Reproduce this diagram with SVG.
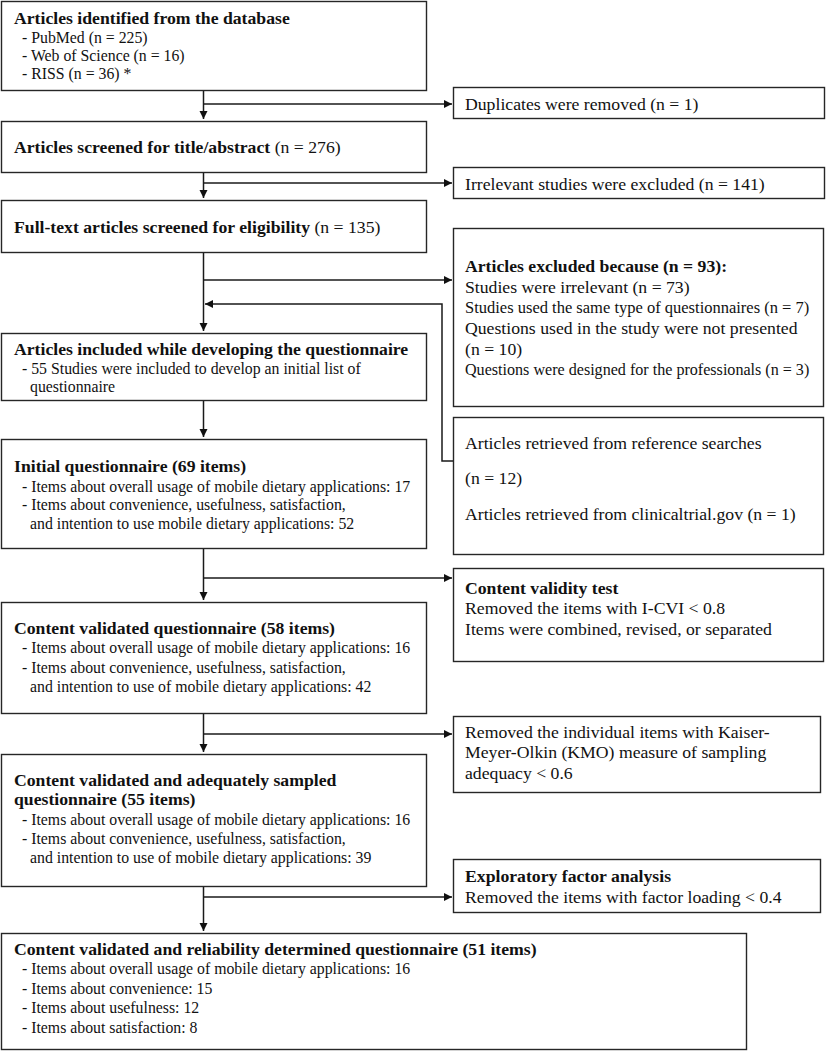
<svg xmlns="http://www.w3.org/2000/svg" width="826" height="1052" viewBox="0 0 826 1052">
<defs>
<style>
.box{fill:#fff;stroke:#262626;stroke-width:1.4}
.ln{fill:none;stroke:#1a1a1a;stroke-width:1.5}
text{font-family:"Liberation Serif","Times New Roman",serif;fill:#111}
.t{font-size:17.7px}
.b{font-weight:bold}
.s{font-size:15.8px}
</style>
<marker id="ah" markerUnits="userSpaceOnUse" markerWidth="10" markerHeight="10" viewBox="0 0 10 10" refX="9" refY="5" orient="auto">
<path d="M1,1 L9,5 L1,9 Z" fill="#111"/>
</marker>
</defs>
<rect width="826" height="1052" fill="#fff"/>

<g id="connectors">
<path class="ln" d="M203.5,90 V119" marker-end="url(#ah)"/>
<path class="ln" d="M203.5,104 H452" marker-end="url(#ah)"/>
<path class="ln" d="M203.5,173 V198" marker-end="url(#ah)"/>
<path class="ln" d="M203.5,183 H452" marker-end="url(#ah)"/>
<path class="ln" d="M203.5,253 V331" marker-end="url(#ah)"/>
<path class="ln" d="M203.5,280 H452" marker-end="url(#ah)"/>
<path class="ln" d="M453,461 H442 V304 H205" marker-end="url(#ah)"/>
<path class="ln" d="M203.5,401 V437" marker-end="url(#ah)"/>
<path class="ln" d="M203.5,549 V600" marker-end="url(#ah)"/>
<path class="ln" d="M203.5,578 H452" marker-end="url(#ah)"/>
<path class="ln" d="M203.5,714 V752" marker-end="url(#ah)"/>
<path class="ln" d="M203.5,734 H452" marker-end="url(#ah)"/>
<path class="ln" d="M203.5,887 V931" marker-end="url(#ah)"/>
<path class="ln" d="M203.5,897 H452" marker-end="url(#ah)"/>
</g>

<g id="n-identified">
<rect class="box" x="1.5" y="1.5" width="425" height="89"/>
<text class="t b" x="14" y="24">Articles identified from the database</text>
<text class="s" x="22" y="43">- PubMed (n = 225)</text>
<text class="s" x="22" y="61">- Web of Science (n = 16)</text>
<text class="s" x="22" y="79">- RISS (n = 36) *</text>
</g>

<g id="n-duplicates">
<rect class="box" x="453.5" y="87.5" width="371" height="31"/>
<text class="t" x="465" y="110">Duplicates were removed (n = 1)</text>
</g>

<g id="n-screened">
<rect class="box" x="1.5" y="121.5" width="425" height="51"/>
<text class="t" x="14" y="153"><tspan class="b">Articles screened for title/abstract</tspan> (n = 276)</text>
</g>

<g id="n-irrelevant">
<rect class="box" x="453.5" y="167.5" width="371" height="31"/>
<text class="t" x="465" y="190">Irrelevant studies were excluded (n = 141)</text>
</g>

<g id="n-fulltext">
<rect class="box" x="1.5" y="200.5" width="425" height="52"/>
<text class="t" x="14" y="233"><tspan class="b">Full-text articles screened for eligibility</tspan> (n = 135)</text>
</g>

<g id="n-excluded">
<rect class="box" x="453.5" y="228.5" width="370" height="178"/>
<text class="t b" x="465" y="272">Articles excluded because (n = 93):</text>
<text class="t" x="465" y="293">Studies were irrelevant (n = 73)</text>
<text x="465" y="313" style="font-size:16.5px">Studies used the same type of questionnaires (n = 7)</text>
<text class="t" x="465" y="334">Questions used in the study were not presented</text>
<text class="t" x="465" y="355">(n = 10)</text>
<text x="465" y="375" style="font-size:16.1px">Questions were designed for the professionals (n = 3)</text>
</g>

<g id="n-included">
<rect class="box" x="1.5" y="333.5" width="425" height="67"/>
<text class="t b" x="14" y="355">Articles included while developing the questionnaire</text>
<text class="s" x="22" y="374">- 55 Studies were included to develop an initial list of</text>
<text class="s" x="30" y="392">questionnaire</text>
</g>

<g id="n-retrieved">
<rect class="box" x="453.5" y="417.5" width="370" height="137"/>
<text class="t" x="465" y="449">Articles retrieved from reference searches</text>
<text class="t" x="465" y="484">(n = 12)</text>
<text class="t" x="465" y="520">Articles retrieved from clinicaltrial.gov (n = 1)</text>
</g>

<g id="n-initial">
<rect class="box" x="1.5" y="439.5" width="425" height="109"/>
<text class="t b" x="14" y="472">Initial questionnaire (69 items)</text>
<text class="s" x="22" y="491.5">- Items about overall usage of mobile dietary applications: 17</text>
<text class="s" x="22" y="510">- Items about convenience, usefulness, satisfaction,</text>
<text class="s" x="30" y="528.5">and intention to use mobile dietary applications: 52</text>
</g>

<g id="n-cvt">
<rect class="box" x="453.5" y="568.5" width="370" height="93"/>
<text class="t b" x="465" y="594">Content validity test</text>
<text class="t" x="465" y="614">Removed the items with I-CVI &lt; 0.8</text>
<text class="t" x="465" y="635">Items were combined, revised, or separated</text>
</g>

<g id="n-cv58">
<rect class="box" x="1.5" y="602.5" width="425" height="111"/>
<text class="t b" x="14" y="634">Content validated questionnaire (58 items)</text>
<text class="s" x="22" y="653">- Items about overall usage of mobile dietary applications: 16</text>
<text class="s" x="22" y="672.5">- Items about convenience, usefulness, satisfaction,</text>
<text class="s" x="30" y="692">and intention to use of mobile dietary applications: 42</text>
</g>

<g id="n-kmo">
<rect class="box" x="453.5" y="716.5" width="367" height="76"/>
<text class="t" x="465" y="738">Removed the individual items with Kaiser-</text>
<text class="t" x="465" y="758">Meyer-Olkin (KMO) measure of sampling</text>
<text class="t" x="465" y="779">adequacy &lt; 0.6</text>
</g>

<g id="n-cv55">
<rect class="box" x="1.5" y="754.5" width="425" height="132"/>
<text class="t b" x="14" y="786">Content validated and adequately sampled</text>
<text class="t b" x="14" y="805">questionnaire (55 items)</text>
<text class="s" x="22" y="824.5">- Items about overall usage of mobile dietary applications: 16</text>
<text class="s" x="22" y="843.5">- Items about convenience, usefulness, satisfaction,</text>
<text class="s" x="30" y="862.5">and intention to use of mobile dietary applications: 39</text>
</g>

<g id="n-efa">
<rect class="box" x="453.5" y="859.5" width="367" height="53"/>
<text class="t b" x="465" y="882">Exploratory factor analysis</text>
<text class="t" x="465" y="903">Removed the items with factor loading &lt; 0.4</text>
</g>

<g id="n-final">
<rect class="box" x="1.5" y="933.5" width="745" height="116"/>
<text class="t b" x="14" y="955">Content validated and reliability determined questionnaire (51 items)</text>
<text class="s" x="22" y="974">- Items about overall usage of mobile dietary applications: 16</text>
<text class="s" x="22" y="993.5">- Items about convenience: 15</text>
<text class="s" x="22" y="1013">- Items about usefulness: 12</text>
<text class="s" x="22" y="1032.5">- Items about satisfaction: 8</text>
</g>
</svg>
